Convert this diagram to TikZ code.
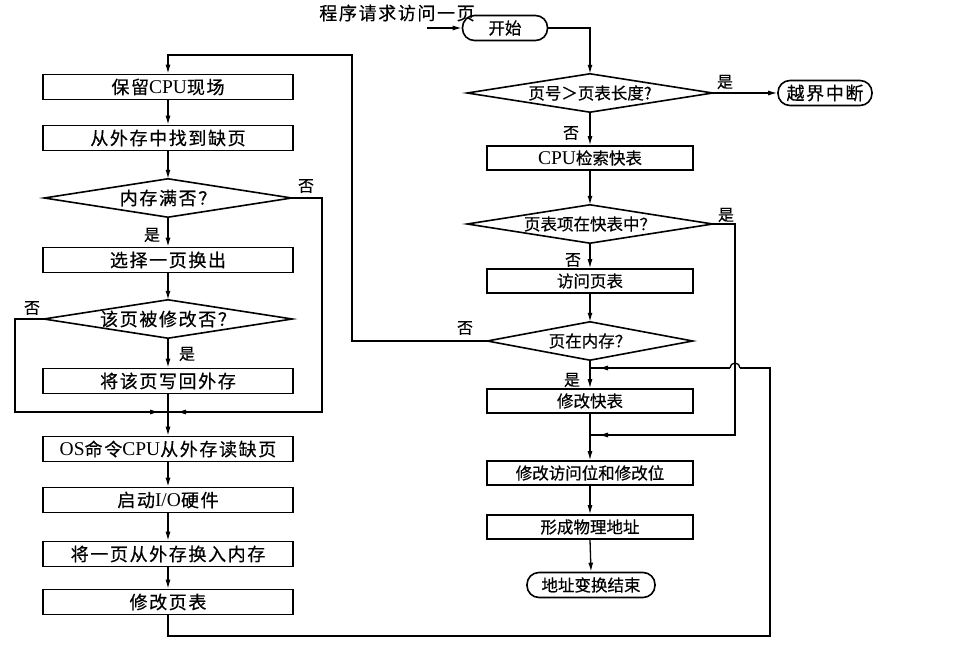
\documentclass[tikz,border=0pt]{standalone}
\usepackage{fontspec}
\setmainfont{Liberation Serif}
\newfontfamily\cjk{Noto Sans CJK SC}[FakeBold=0.5]
\newfontfamily\cjkw{Noto Sans CJK SC}[LetterSpace=9,FakeBold=0.5]
\usetikzlibrary{arrows.meta,decorations.markings}
\newcommand\latn[1]{{\fontsize{19.5}{20}\selectfont\rmfamily #1}}
\tikzset{
  lfont/.style={font=\fontsize{18}{20}\selectfont\cjkw},
  rfont/.style={font=\fontsize{16.5}{20}\selectfont\cjk},
  lbox/.style={draw, line width=1.6pt, minimum width=250pt, minimum height=25pt, inner sep=0pt, lfont},
  rbox/.style={draw, line width=1.6pt, minimum width=206pt, minimum height=24pt, inner sep=0pt, rfont},
  term/.style={draw, line width=1.6pt, rounded corners=12pt, minimum height=25pt, inner sep=0pt},
  dia/.style={minimum width=#1, minimum height=38pt, inner sep=0pt},
  outline/.style={line width=1.6pt, line join=miter},
  lab/.style={font=\fontsize{16}{18}\selectfont\cjk, inner sep=0pt},
  con/.style={line width=1.3pt, black},
  arr/.style={con, -{Latex[length=9pt,width=5pt]}},
  midarr/.style={con, postaction={decorate}, decoration={markings, mark=at position -8pt with {\arrow{Latex[length=10pt,width=5pt]}}}}
}
\begin{document}
\begin{tikzpicture}[x=1pt,y=-1pt]
\useasboundingbox (0,0) rectangle (978,652);
% ---------- right column ----------
\node[lfont, inner sep=0pt] (req) at (397,13) {程序请求访问一页};
\coordinate (reqin) at (427,28);
\node[term, minimum width=85pt, rfont] (s) at (505,28) {开始};
\node[dia=245pt, rfont] (r1) at (590,93) {页号＞页表长度?};
\node[term, minimum width=94pt, lfont] (e) at (825,93) {越界中断};
\node[rbox] (r2) at (590,158) {\latn{CPU}检索快表};
\node[dia=245pt, rfont] (r3) at (590,224) {页表项在快表中？};
\node[rbox] (r4) at (590,281) {访问页表};
\node[dia=205pt, rfont] (r5) at (590,341) {页在内存？};
\node[rbox] (r6) at (590,401) {修改快表};
\node[rbox] (r7) at (590,473) {修改访问位和修改位};
\node[rbox] (r8) at (590,527) {形成物理地址};
\node[term, minimum width=128pt, rfont] (t) at (591,585) {地址变换结束};
% ---------- left column ----------
\node[lbox] (l1) at (168,87) {保留\latn{CPU}现场};
\node[lbox] (l2) at (168,138) {从外存中找到缺页};
\node[dia=247pt, lfont] (d1) at (168,198) {内存满否？};
\node[lbox] (l3) at (168,260) {选择一页换出};
\node[dia=248pt, lfont] (d2) at (168,319) {该页被修改否？};
\node[lbox] (l4) at (168,381) {将该页写回外存};
\node[lbox] (l5) at (168,449) {\latn{OS}命令\latn{CPU}从外存读缺页};
\node[lbox] (l6) at (168,500) {启动\latn{I/O}硬件};
\node[lbox] (l7) at (168,554) {将一页从外存换入内存};
\node[lbox] (l8) at (168,602) {修改页表};
% diamond outlines
\foreach \d in {r1,r3,r5,d1,d2}
  \draw[outline] (\d.north) -- (\d.east) -- (\d.south) -- (\d.west) -- cycle;
% ---------- labels ----------
\node[lab] (y1) at (725,82) {是};
\node[lab] (n1) at (571,133) {否};
\node[lab] (y2) at (726,215) {是};
\node[lab] (n2) at (573,260) {否};
\node[lab] (n3) at (465,328) {否};
\node[lab] (y3) at (572,380) {是};
\node[lab] (n4) at (306,186) {否};
\node[lab] (y4) at (152,235) {是};
\node[lab] (n5) at (32,308) {否};
\node[lab] (y5) at (187,354) {是};
% ---------- helper coordinates ----------
\coordinate (m1) at (168,412);
\coordinate (lx) at (15,412);
\coordinate (rx) at (322,412);
\coordinate (tl) at (352,55);
\coordinate (m2) at (590,435);
\coordinate (jx) at (735,435);
\coordinate (m3) at (590,368);
\coordinate (bl) at (168,636);
\coordinate (br) at (770,636);
\coordinate (tr) at (770,368);
\coordinate (hop) at (740,368);
\coordinate (hopl) at (730,368);
% ---------- right connectors ----------
\draw[arr] (reqin) -- (s.west);
\draw[arr] (s.east) -| (r1.north);
\draw[arr] (r1.east) -- (e.west);
\draw[arr] (r1.south) -- (r2.north);
\draw[arr] (r2.south) -- (r3.north);
\draw[arr] (r3.south) -- (r4.north);
\draw[arr] (r4.south) -- (r5.north);
\draw[arr] (r5.south) -- (r6.north);
\draw[arr] (r6.south) -- (r7.north);
\draw[arr] (r7.south) -- (r8.north);
\draw[arr] (r8.south) -- (t.north);
\draw[midarr] (r3.east) -| (jx) -- (m2);
\draw[arr] (r5.west) -| (tl) -| (l1.north);
% ---------- left connectors ----------
\draw[arr] (l1.south) -- (l2.north);
\draw[arr] (l2.south) -- (d1.north);
\draw[arr] (d1.south) -- (l3.north);
\draw[arr] (l3.south) -- (d2.north);
\draw[arr] (d2.south) -- (l4.north);
\draw[arr] (l4.south) -- (l5.north);
\draw[midarr] (d2.west) -| (lx) -- (m1);
\draw[midarr] (d1.east) -| (rx) -- (m1);
\draw[arr] (l5.south) -- (l6.north);
\draw[arr] (l6.south) -- (l7.north);
\draw[arr] (l7.south) -- (l8.north);
% ---------- return loop ----------
\draw[con] (l8.south) -- (bl) -- (br) -- (tr) -- (hop);
\draw[con] (hop) arc[start angle=0, end angle=180, radius=5pt];
\draw[midarr] (hopl) -- (m3);
\end{tikzpicture}
\end{document}
